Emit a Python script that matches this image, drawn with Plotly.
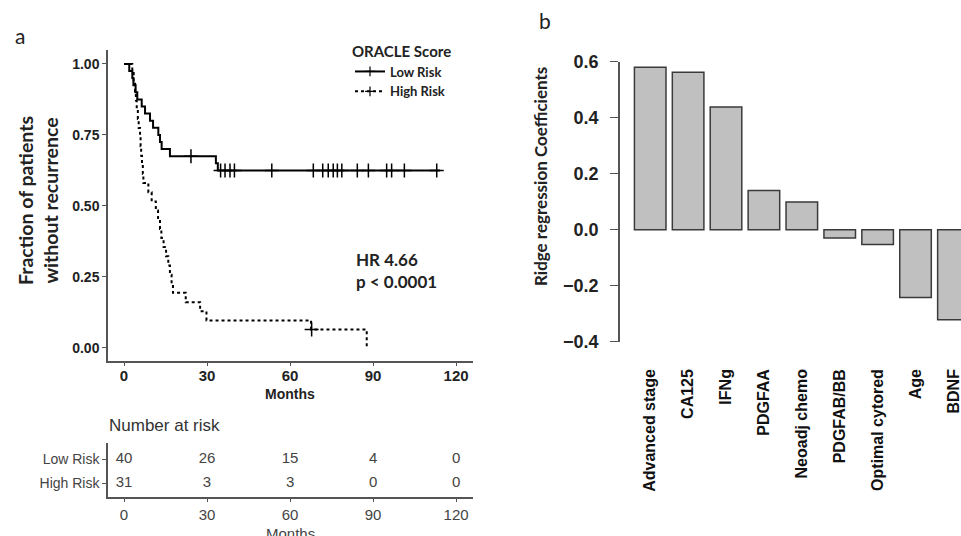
import plotly.graph_objects as go

# ---------------- Panel a: Kaplan-Meier data ----------------
low_t = [0, 1.9, 3.0, 3.4, 4.2, 4.8, 6.4, 7.6, 9.4, 10.5, 12.4, 13.0, 13.6, 16.6, 17.7, 33.2, 33.9, 114.2]
low_s = [1.0, 0.975, 0.95, 0.925, 0.9, 0.875, 0.85, 0.825, 0.8, 0.775, 0.75, 0.725, 0.7, 0.675, 0.675, 0.65, 0.625, 0.625]
low_cens_t = [24.2, 34.9, 36.5, 38.3, 39.9, 53.4, 68.4, 71.8, 73.8, 75.6, 77.1, 78.7, 84.3, 88.3, 94.9, 96.7, 101.3, 113.0]
low_cens_s = [0.675, 0.625, 0.625, 0.625, 0.625, 0.625, 0.625, 0.625, 0.625, 0.625, 0.625, 0.625, 0.625, 0.625, 0.625, 0.625, 0.625, 0.625]

high_t = [0, 3.0, 3.5, 4.0, 4.3, 4.6, 5.0, 5.3, 5.8, 6.0, 6.2, 6.5, 6.8, 7.0, 8.8, 10.0, 11.5, 12.3,
          13.0, 13.5, 14.3, 15.2, 16.0, 16.6, 17.2, 17.7, 22.3, 27.5, 29.8, 67.6, 87.7]
high_s = [1.0, 0.968, 0.935, 0.903, 0.871, 0.839, 0.806, 0.774, 0.742, 0.71, 0.677, 0.645, 0.613, 0.581,
          0.548, 0.516, 0.484, 0.452, 0.419, 0.387, 0.355, 0.323, 0.29, 0.258, 0.226, 0.194, 0.161,
          0.129, 0.097, 0.065, 0.0]
high_cens_t = [67.8]
high_cens_s = [0.065]

# Number at risk table
risk_times = [0, 30, 60, 90, 120]
risk_low = [40, 26, 15, 4, 0]
risk_high = [31, 3, 3, 0, 0]
risk_rows = ["High Risk", "Low Risk"]

km_ticks = [0, 30, 60, 90, 120]
surv_ticks = [0.0, 0.25, 0.5, 0.75, 1.0]
surv_ticktext = ["0.00", "0.25", "0.50", "0.75", "1.00"]

# ---------------- Panel b: ridge coefficients ----------------
features = ["Advanced stage", "CA125", "IFNg", "PDGFAA", "Neoadj chemo",
            "PDGFAB/BB", "Optimal cytored", "Age", "BDNF"]
coefs = [0.58, 0.562, 0.438, 0.14, 0.099, -0.03, -0.053, -0.242, -0.322]
coef_ticks = [-0.4, -0.2, 0.0, 0.2, 0.4, 0.6]

W, H = 961, 536
def fx(p):
    return p / W
def fy(p):
    return 1 - p / H

AX = "#555555"
CAL = "Lato"
ARI = "Liberation Sans"

fig = go.Figure()

# KM lines
fig.add_trace(go.Scatter(x=low_t, y=low_s, mode="lines", line=dict(color="black", width=2, shape="hv"),
                         showlegend=False, hoverinfo="skip", xaxis="x", yaxis="y"))
fig.add_trace(go.Scatter(x=high_t, y=high_s, mode="lines",
                         line=dict(color="black", width=2, shape="hv", dash="3px,3px"),
                         showlegend=False, hoverinfo="skip", xaxis="x", yaxis="y"))
fig.add_trace(go.Scatter(x=low_cens_t, y=low_cens_s, mode="markers",
                         marker=dict(symbol="cross-thin", size=10, line=dict(color="black", width=1.5)),
                         showlegend=False, xaxis="x", yaxis="y"))
fig.add_trace(go.Scatter(x=high_cens_t, y=high_cens_s, mode="markers",
                         marker=dict(symbol="cross-thin", size=10, line=dict(color="black", width=1.5)),
                         showlegend=False, xaxis="x", yaxis="y"))
# legend entries
fig.add_trace(go.Scatter(x=[None], y=[None], mode="lines+markers", name="Low Risk",
                         line=dict(color="black", width=2),
                         marker=dict(symbol="cross-thin", size=7, line=dict(color="black", width=1.2)),
                         xaxis="x", yaxis="y"))
fig.add_trace(go.Scatter(x=[None], y=[None], mode="lines+markers", name="High Risk",
                         line=dict(color="black", width=2, dash="3px,3px"),
                         marker=dict(symbol="cross-thin", size=7, line=dict(color="black", width=1.2)),
                         xaxis="x", yaxis="y"))

# Risk table
fig.add_trace(go.Scatter(x=risk_times, y=["Low Risk"] * len(risk_times), mode="text",
                         text=[str(v) for v in risk_low],
                         textfont=dict(family=ARI, size=15, color="#444444"),
                         showlegend=False, xaxis="x2", yaxis="y2"))
fig.add_trace(go.Scatter(x=risk_times, y=["High Risk"] * len(risk_times), mode="text",
                         text=[str(v) for v in risk_high],
                         textfont=dict(family=ARI, size=15, color="#444444"),
                         showlegend=False, xaxis="x2", yaxis="y2"))

# Bars
fig.add_trace(go.Bar(x=features, y=coefs, width=0.833,
                     marker=dict(color="#c0c0c0", line=dict(color="#3a3a3a", width=1.5)),
                     showlegend=False, xaxis="x3", yaxis="y3"))

km_x_range = [-5.78, 126.1]

fig.update_layout(
    template="none",
    width=W, height=H,
    margin=dict(l=0, r=0, t=0, b=0, autoexpand=False),
    paper_bgcolor="white", plot_bgcolor="white",
    xaxis=dict(domain=[fx(108), fx(473)], range=km_x_range, tickvals=km_ticks, automargin=False,
               ticks="outside", ticklen=3, tickcolor=AX, showline=True, linecolor=AX, linewidth=1.5,
               showgrid=False, zeroline=False, anchor="y", ticklabelstandoff=-3,
               tickfont=dict(family=ARI, size=15, color="#222222", weight="bold")),
    yaxis=dict(domain=[fy(361), fy(50)], range=[-0.046, 1.049], tickvals=surv_ticks, ticktext=surv_ticktext,
               ticks="outside", ticklen=4, tickcolor=AX, showline=True, linecolor=AX, linewidth=1.5,
               showgrid=False, zeroline=False, anchor="x", automargin=False,
               tickfont=dict(family=ARI, size=14, color="#222222", weight="bold")),
    xaxis2=dict(domain=[fx(108), fx(473)], range=km_x_range, tickvals=km_ticks, automargin=False,
                ticks="outside", ticklen=3, tickcolor=AX, showline=True, linecolor=AX, linewidth=1.5,
                showgrid=False, zeroline=False, anchor="y2",
                tickfont=dict(family=ARI, size=15, color="#444444")),
    yaxis2=dict(domain=[fy(497), fy(443)], type="category", categoryorder="array", categoryarray=risk_rows,
                range=[-0.583, 1.667], ticks="outside", ticklen=4, tickcolor=AX, showline=True,
                linecolor=AX, linewidth=1.5, showgrid=False, zeroline=False, anchor="x2", automargin=False,
                tickfont=dict(family=ARI, size=14, color="#444444")),
    xaxis3=dict(domain=[fx(620), 1.0], range=[-0.797, 8.2], type="category", automargin=False,
                ticks="outside", ticklen=20, tickcolor="rgba(0,0,0,0)", showline=False,
                showgrid=False, zeroline=False, anchor="y3", tickangle=-90,
                tickfont=dict(family=ARI, size=16, color="#111111", weight="bold")),
    yaxis3=dict(domain=[fy(341.7), fy(61.7)], range=[-0.4, 0.6], tickvals=coef_ticks, tickformat=".1f",
                ticks="outside", ticklen=8, tickcolor=AX, showline=True, linecolor=AX, linewidth=1.5,
                showgrid=False, zeroline=False, anchor="x3", ticklabelstandoff=8, automargin=False,
                tickfont=dict(family=ARI, size=18, color="#222222", weight="bold")),
    legend=dict(x=fx(350), y=fy(37), xanchor="left", yanchor="top",
                title=dict(text="<b>ORACLE Score</b>", font=dict(family=CAL, size=15, color="#222222")),
                font=dict(family=CAL, size=13, color="#222222", weight="bold"),
                bgcolor="rgba(0,0,0,0)", itemwidth=30, tracegroupgap=0),
    showlegend=True,
)

ann = [
    dict(text="a", x=fx(20), y=fy(35), font=dict(family=CAL, size=21, color="#222222")),
    dict(text="b", x=fx(545), y=fy(20), font=dict(family=CAL, size=21, color="#222222")),
    dict(text="<b>Fraction of patients<br>without recurrence</b>", x=fx(38), y=fy(201), textangle=-90,
         font=dict(family=CAL, size=19.5, color="#222222")),
    dict(text="<b>Months</b>", x=fx(290), y=fy(394), font=dict(family=ARI, size=14, color="#222222")),
    dict(text="<b>HR 4.66<br>p < 0.0001</b>", x=fx(354), y=fy(270), xanchor="left", align="left",
         font=dict(family=CAL, size=17, color="#222222")),
    dict(text="Number at risk", x=fx(107), y=fy(425), xanchor="left",
         font=dict(family=ARI, size=17, color="#333333")),
    dict(text="Months", x=fx(290), y=fy(533), font=dict(family=ARI, size=15, color="#444444")),
    dict(text="<b>Ridge regression Coefficients</b>", x=fx(540), y=fy(177), textangle=-90,
         font=dict(family=CAL, size=17, color="#222222")),
]
for a in ann:
    a.update(xref="paper", yref="paper", showarrow=False)
    a.setdefault("xanchor", "center")
    a.setdefault("yanchor", "middle")
fig.update_layout(annotations=ann)

fig.write_html("out.html", config={"displayModeBar": False},
               post_script="document.body.style.margin='0';document.body.style.padding='0';")
